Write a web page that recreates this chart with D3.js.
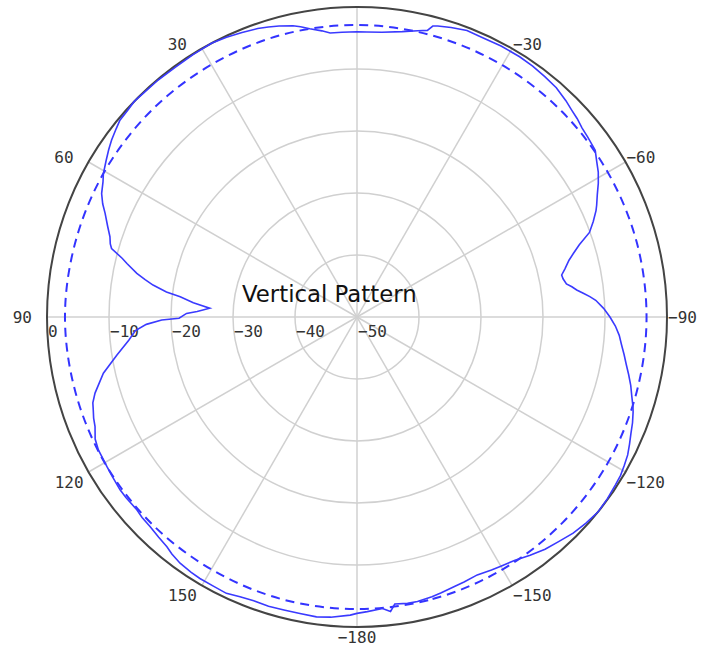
<!DOCTYPE html>
<html>
<head>
<meta charset="utf-8">
<script src="https://cdn.jsdelivr.net/npm/d3@7"></script>
<style>
  body { margin: 0; background: #fff; }
  svg { display: block; }
</style>
</head>
<body>
<script>
// angles in degrees, 0 at top, positive to the left
const solidAngle = [-180,-178,-175,-173.5,-172.5,-170,-168,-165,-163,-160,-158,-155,-152,-150,-147,-144,-141,-138,-135,-132,-129,-126,-123,-121,-119,-117,-115,-113,-111,-109,-108,-106,-104,-102,-100,-98,-96,-94,-92,-90,-88,-86,-85,-84,-83,-82,-81,-79.5,-78.4,-77,-75,-73.6,-72,-70,-68,-66,-65,-63,-61,-59,-57,-55,-52,-50,-48,-46,-44,-41,-38,-35,-32,-28,-24,-21,-18,-15.5,-14.6,-13.8,-12,-9,-5,-2,0,3,5.4,7,9.3,11,12.4,15,17,19,22,25,28,32,36,40,44,46,48,50.3,52,54.2,56,58,60.5,62,64.2,66,67.6,70,72,73.5,74.4,76,76.9,78.8,80,81.1,82.5,83.5,85,86.6,88,88.8,90.4,90.9,92,93.5,95.8,99,102.5,106.2,108,109.4,111,112.7,115,117.2,120.9,123,126.1,128,131.2,133,135.4,138,140.4,142,144.3,147,149,152,154.7,157.3,160,163,166,169.1,172.3,175,178.7];
const solidGain = [-2.2,-2.45,-2.8,-2.2,-3.3,-3.1,-3.1,-3.3,-3.5,-3.8,-3.9,-4.1,-3.8,-3.6,-3.2,-2.5,-1.8,-1.3,-0.7,-0.3,0,-0.1,-0.3,-0.4,-0.7,-1.0,-1.5,-2.0,-2.4,-2.9,-3.2,-3.9,-4.5,-5.2,-5.9,-6.5,-7.1,-7.6,-8.3,-9.2,-10.2,-11.4,-12.3,-13.3,-14.3,-15.0,-15.8,-16.2,-16.3,-15.6,-14.6,-13.6,-12.3,-10.1,-8.9,-7.8,-7.35,-6.5,-5.5,-4.6,-3.9,-3.1,-2.8,-2.6,-2.2,-1.9,-1.5,-1.0,-0.8,-0.6,-0.5,-0.5,-0.6,-0.5,-0.9,-1.3,-1.5,-2.4,-2.8,-3.4,-3.9,-4.0,-4.0,-4.0,-4.0,-3.5,-2.9,-2.3,-1.9,-1.4,-1.1,-0.8,-0.5,-0.2,0,-0.1,-0.2,-0.1,-0.1,0,-0.2,-0.3,-0.7,-1.2,-1.7,-2.3,-3.0,-3.6,-4.25,-5.1,-6.05,-7.2,-8.1,-8.5,-8.9,-11.0,-11.9,-13.8,-15.3,-16.7,-19.0,-21.3,-23.5,-26.2,-24.2,-22.5,-21.3,-18.5,-16.0,-14.2,-13.0,-10.8,-8.1,-6.0,-5.2,-4.9,-4.5,-4.2,-3.4,-3.1,-3.0,-2.9,-2.7,-2.7,-2.8,-2.6,-2.5,-2.2,-1.9,-1.5,-1.1,-0.9,-0.8,-0.8,-0.7,-1.1,-1.3,-1.2,-1.3,-1.3,-1.2,-1.4,-1.9];

const dashAngle = [-180,-165,-150,-135,-120,-105,-90,-75,-60,-45,-30,-15,0,15,30,45,60,75,90,105,120,135,150,165];
const dashGain = [-2.9,-2.9,-3.0,-3.1,-3.2,-3.3,-3.3,-3.3,-3.3,-3.2,-3.1,-3.0,-2.9,-2.9,-3.0,-3.0,-3.0,-3.0,-2.9,-3.0,-3.0,-3.0,-3.0,-2.9];

const radialTicks = [0, -10, -20, -30, -40, -50];
const angleTicks = [30, 60, 90, 120, 150, -180, -150, -120, -90, -60, -30];
const spokeAngles = [0, 30, 60, 90, 120, 150, 180, 210, 240, 270, 300, 330];

const width = 715, height = 649;
const cx = 357, cy = 317, R = 310;

const r = d3.scaleLinear().domain([-50, 0]).range([0, R]).clamp(true);
const rad = a => -a * Math.PI / 180;

const svg = d3.select('body').append('svg')
    .attr('width', width)
    .attr('height', height);

svg.append('rect').attr('width', width).attr('height', height).attr('fill', '#fff');

const g = svg.append('g').attr('transform', `translate(${cx},${cy})`);

// rings
g.selectAll('circle.ring')
    .data(radialTicks.filter(v => v > -50 && v < 0))
    .enter().append('circle')
    .attr('class', 'ring')
    .attr('r', d => r(d))
    .attr('fill', 'none')
    .attr('stroke', '#d0d0d0')
    .attr('stroke-width', 1.5);

// spokes
g.selectAll('line.spoke')
    .data(spokeAngles)
    .enter().append('line')
    .attr('x1', 0).attr('y1', 0)
    .attr('x2', d => R * Math.sin(rad(d)))
    .attr('y2', d => -R * Math.cos(rad(d)))
    .attr('stroke', '#d0d0d0')
    .attr('stroke-width', 1.5);

// title
svg.append('text')
    .attr('x', 242).attr('y', 302)
    .attr('font-family', 'DejaVu Sans, Verdana, sans-serif')
    .attr('font-size', 22.8)
    .attr('fill', '#111')
    .text('Vertical Pattern');

// radial labels
g.selectAll('text.rlab')
    .data(radialTicks)
    .enter().append('text')
    .attr('x', d => -r(d) + 1)
    .attr('y', 20)
    .attr('font-family', 'DejaVu Sans Mono, monospace')
    .attr('font-size', 16)
    .attr('fill', '#333')
    .text(d => d < 0 ? '\u2212' + Math.abs(d) : d);

// angle labels
g.selectAll('text.alab')
    .data(angleTicks)
    .enter().append('text')
    .attr('x', d => {
        const px = R * Math.sin(rad(d));
        if (d > 0) return px + (d <= 90 ? -15 : -5);
        if (d === -180) return px;
        return px + 1;
    })
    .attr('y', d => {
        const py = -R * Math.cos(rad(d));
        const a = Math.abs(d);
        return py + (a < 90 ? 1 : a === 90 ? 6 : 16);
    })
    .attr('text-anchor', d => d === -180 ? 'middle' : d > 0 ? 'end' : 'start')
    .attr('font-family', 'DejaVu Sans Mono, monospace')
    .attr('font-size', 16)
    .attr('fill', '#333')
    .text(d => d < 0 ? '\u2212' + Math.abs(d) : d);

// outer circle
g.append('circle')
    .attr('r', R)
    .attr('fill', 'none')
    .attr('stroke', '#444')
    .attr('stroke-width', 2);

// dashed reference
const dashLine = d3.lineRadial()
    .angle(d => rad(d[0]))
    .radius(d => r(d[1]))
    .curve(d3.curveCardinalClosed);

g.append('path')
    .datum(d3.zip(dashAngle, dashGain))
    .attr('d', dashLine)
    .attr('fill', 'none')
    .attr('stroke', '#3333ff')
    .attr('stroke-width', 2)
    .attr('stroke-dasharray', '9,6');

// measured pattern
const solidLine = d3.lineRadial()
    .angle(d => rad(d[0]))
    .radius(d => r(d[1]))
    .curve(d3.curveLinearClosed);

g.append('path')
    .datum(d3.zip(solidAngle, solidGain))
    .attr('d', solidLine)
    .attr('fill', 'none')
    .attr('stroke', '#3a3aff')
    .attr('stroke-width', 1.6);
</script>
</body>
</html>
